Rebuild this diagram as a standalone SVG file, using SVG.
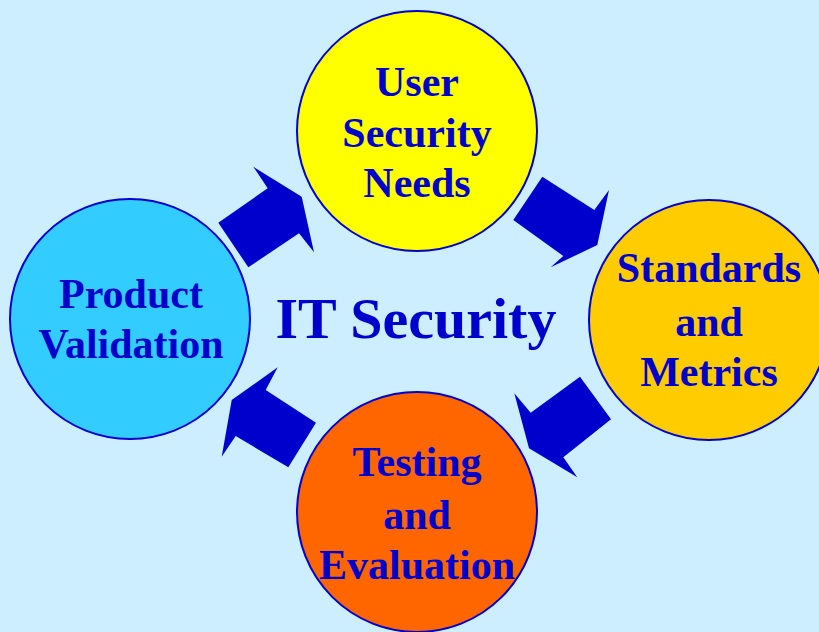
<svg xmlns="http://www.w3.org/2000/svg" width="819" height="632" viewBox="0 0 819 632">
<style>
.n{stroke:#0000CC;stroke-width:2}
.t{font-family:"Liberation Serif","Times New Roman",serif;font-weight:bold;font-size:42px;fill:#0000CC;text-anchor:middle}
.a{fill:#0000CC}
</style>
<rect width="819" height="632" fill="#CCEEFF"/>
<g id="connectors">
<polygon class="a" points="218.3,222.7 267.7,188.3 253.3,166.7 301.7,196.7 314,252.3 299,233.3 248.3,267.3"/>
<polygon class="a" points="542.3,176.7 594.3,210 609,190 597.3,245 550.7,267.3 563.3,256 513.3,220"/>
<polygon class="a" points="580,376.7 611,419.3 563.3,457.3 577.3,477.3 529,448.3 514.3,393.3 530.7,412.7"/>
<polygon class="a" points="316,422.7 288.3,467.3 235.7,436 221.7,456.7 231.7,400 277.7,367.3 265.7,390"/>
</g>
<g id="user-needs">
<circle class="n" cx="417" cy="131" r="120" fill="#FFFF00"/>
<text class="t" x="417" y="96">User</text>
<text class="t" x="417" y="147">Security</text>
<text class="t" x="417" y="197">Needs</text>
</g>
<g id="standards">
<circle class="n" cx="709" cy="320" r="120" fill="#FFCC00"/>
<text class="t" x="709" y="282">Standards</text>
<text class="t" x="709" y="336">and</text>
<text class="t" x="709" y="386">Metrics</text>
</g>
<g id="testing">
<circle class="n" cx="417" cy="512" r="120" fill="#FF6600"/>
<text class="t" x="417" y="476">Testing</text>
<text class="t" x="417" y="529">and</text>
<text class="t" x="417" y="579">Evaluation</text>
</g>
<g id="product">
<circle class="n" cx="130" cy="319" r="120" fill="#33CCFF"/>
<text class="t" x="131" y="308">Product</text>
<text class="t" x="131" y="358">Validation</text>
</g>
<g id="center">
<text class="t" x="416" y="338" style="font-size:58px">IT Security</text>
</g>
</svg>
